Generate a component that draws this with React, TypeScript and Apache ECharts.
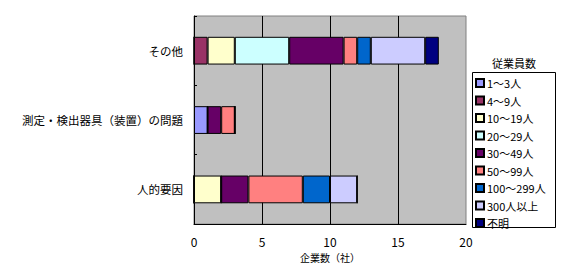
import React, { useEffect, useRef } from "react";
import * as echarts from "echarts";

const categories = ["人的要因", "測定・検出器具（装置）の問題", "その他"];
const seriesNames = ["1～3人", "4～9人", "10～19人", "20～29人", "30～49人", "50～99人", "100～299人", "300人以上", "不明"];
const colors = ["#9999FF", "#993366", "#FFFFCC", "#CCFFFF", "#660066", "#FF8080", "#0066CC", "#CCCCFF", "#000080"];
// values per series, in category order [人的要因, 測定…, その他]
const v1to3 = [0, 1, 0];
const v4to9 = [0, 0, 1];
const v10to19 = [2, 0, 2];
const v20to29 = [0, 0, 4];
const v30to49 = [2, 1, 4];
const v50to99 = [4, 1, 1];
const v100to299 = [2, 0, 1];
const v300plus = [2, 0, 4];
const vUnknown = [0, 0, 1];
const seriesValues = [v1to3, v4to9, v10to19, v20to29, v30to49, v50to99, v100to299, v300plus, vUnknown];
const xTicks = { min: 0, max: 20, interval: 5 };

const FONT = "'Noto Sans CJK JP', sans-serif";

export default function App() {
  const ref = useRef<HTMLDivElement>(null);
  useEffect(() => {
    if (!ref.current) return;
    const chart = echarts.init(ref.current, null, { renderer: "svg" });
    chart.setOption({
      animation: false,
      textStyle: { fontFamily: FONT },
      grid: {
        left: 194,
        right: 101,
        top: 16,
        bottom: 39,
        show: true,
        backgroundColor: "#C0C0C0",
        borderColor: "#808080",
        borderWidth: 1,
      },
      xAxis: {
        type: "value",
        min: xTicks.min,
        max: xTicks.max,
        interval: xTicks.interval,
        name: "企業数（社）",
        nameLocation: "middle",
        nameGap: 24,
        nameTextStyle: { fontSize: 10, color: "#000", fontFamily: FONT },
        axisLine: { show: true, lineStyle: { color: "#000", width: 1 } },
        axisTick: { show: false },
        axisLabel: { fontSize: 12, color: "#000", margin: 11, fontFamily: FONT },
        splitLine: { show: true, showMinLine: false, showMaxLine: false, lineStyle: { color: "#000", width: 1 } },
      },
      yAxis: {
        type: "category",
        data: categories,
        axisLine: { show: true, lineStyle: { color: "#000", width: 1 } },
        axisTick: { show: true, inside: true, length: 3, lineStyle: { color: "#000" } },
        axisLabel: { fontSize: 11.5, color: "#000", margin: 11, fontFamily: FONT },
        splitLine: { show: false },
      },
      legend: {
        orient: "vertical",
        left: 475,
        top: 77,
        padding: 0,
        itemWidth: 8,
        itemHeight: 8,
        itemGap: 5.5,
        icon: "rect",
        textStyle: { fontSize: 11, color: "#000", lineHeight: 12, padding: [0, 0, 0, -2], fontFamily: FONT },
        data: seriesNames,
      },
      graphic: [
        {
          type: "rect",
          shape: { x: 472.5, y: 72.5, width: 83, height: 155 },
          style: { fill: "none", stroke: "#000", lineWidth: 1 },
          z: 100,
        },
        {
          type: "text",
          x: 514,
          y: 63,
          style: { text: "従業員数", fontSize: 11, fill: "#000", align: "center", verticalAlign: "middle", fontFamily: FONT },
        },
      ],
      series: seriesNames.map((name, i) => ({
        name,
        type: "bar",
        stack: "total",
        barWidth: "40%",
        data: seriesValues[i],
        itemStyle: { color: colors[i], borderColor: "#000", borderWidth: 1 },
      })),
    });
    return () => chart.dispose();
  }, []);
  return <div ref={ref} style={{ position: "absolute", left: 0, top: 0, width: 567, height: 267 }} />;
}
